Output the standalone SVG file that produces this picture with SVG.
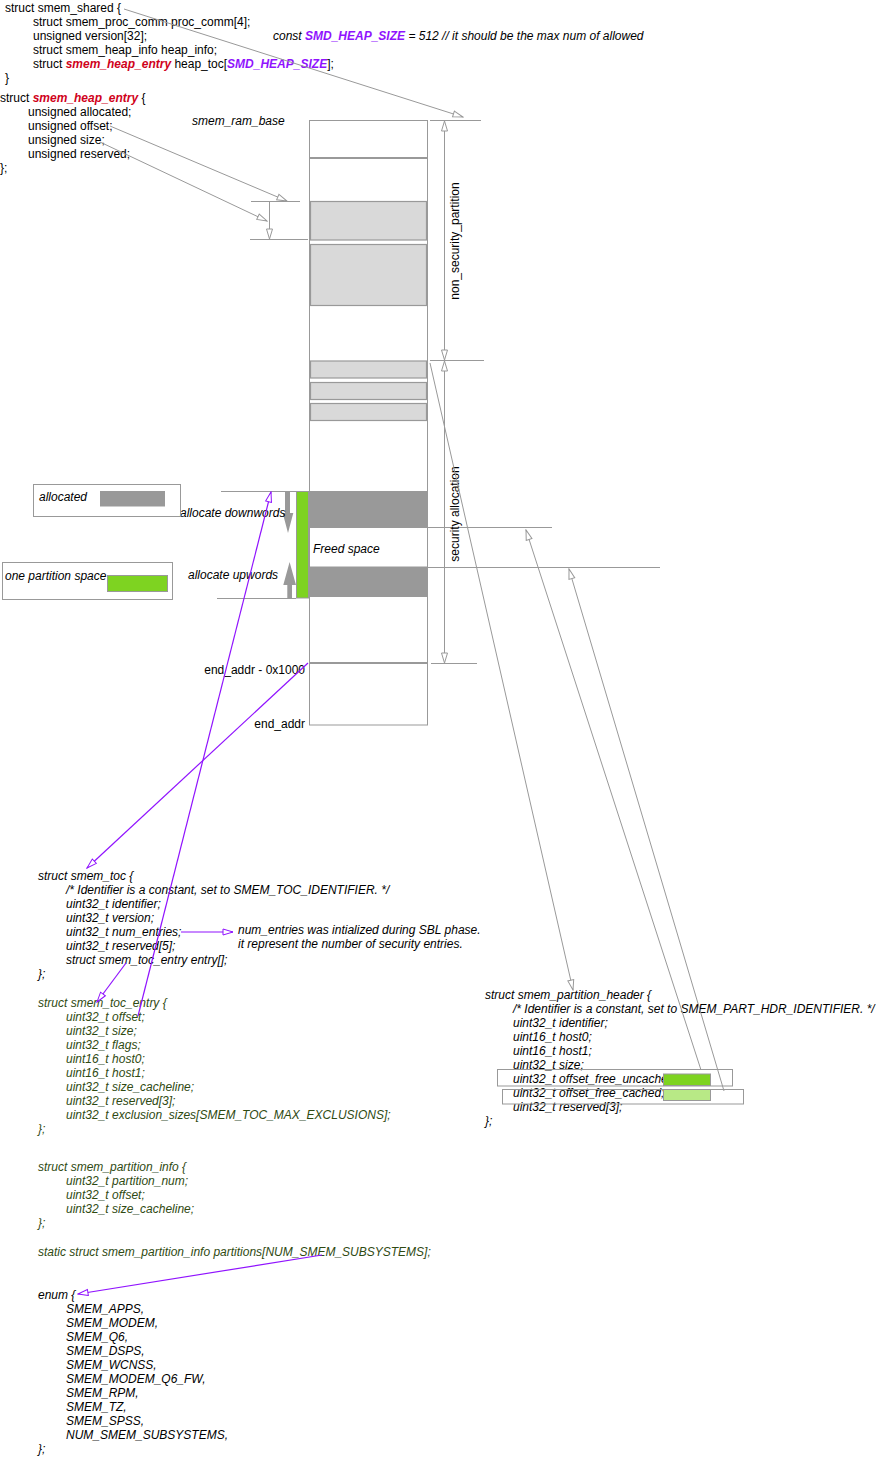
<svg xmlns="http://www.w3.org/2000/svg" width="876" height="1470" viewBox="0 0 876 1470">
<style>
text{font-family:"Liberation Sans",Arial,sans-serif;font-size:12px;fill:#000}
.i{font-style:italic}
.g{fill:#2F4A12}
.red{fill:#D0021B;font-weight:bold;font-style:italic}
.pur{fill:#9013FE;font-weight:bold;font-style:italic}
.ln{stroke:#999;stroke-width:1;fill:none}
.pl{stroke:#9013FE;stroke-width:1.2;fill:none}
.col{fill:#fff;stroke:#999;stroke-width:1}
.lg{fill:#D9D9D9;stroke:#999;stroke-width:1.2}
.dg{fill:#999;stroke:none}
</style>
<defs>
<marker id="ga" viewBox="0 0 12 8" refX="11" refY="4" markerWidth="12" markerHeight="8" markerUnits="userSpaceOnUse" orient="auto-start-reverse"><path d="M1,1 L11,4 L1,7 Z" fill="#fff" stroke="#999" stroke-width="1"/></marker>
<marker id="pa" viewBox="0 0 12 8" refX="11" refY="4" markerWidth="12" markerHeight="8" markerUnits="userSpaceOnUse" orient="auto-start-reverse"><path d="M1,1 L11,4 L1,7 Z" fill="#fff" stroke="#9013FE" stroke-width="1"/></marker>
</defs>

<g id="smem_shared">
<text x="5" y="12">struct smem_shared {</text>
<text x="33" y="26">struct smem_proc_comm proc_comm[4];</text>
<text x="33" y="40">unsigned version[32];</text>
<text x="33" y="54">struct smem_heap_info heap_info;</text>
<text x="33" y="68">struct <tspan class="red">smem_heap_entry</tspan> heap_toc[<tspan class="pur">SMD_HEAP_SIZE</tspan>];</text>
<text x="5" y="82"> }</text>
</g>

<g id="heap_size_note">
<text x="273" y="40" class="i">const <tspan class="pur">SMD_HEAP_SIZE</tspan> = 512 // it should be the max num of allowed</text>
</g>

<g id="smem_heap_entry">
<text x="0" y="102">struct <tspan class="red">smem_heap_entry</tspan> {</text>
<text x="28" y="116">unsigned allocated;</text>
<text x="28" y="130">unsigned offset;</text>
<text x="28" y="144">unsigned size;</text>
<text x="28" y="158">unsigned reserved;</text>
<text x="0" y="172">};</text>
</g>

<g id="memory">
<text x="192" y="125" class="i">smem_ram_base</text>
<rect class="col" x="309.5" y="120.5" width="118" height="37.5"/>
<rect class="col" x="309.5" y="158" width="118" height="505"/>
<rect class="col" x="309.5" y="663" width="118" height="62"/>
<line x1="309.5" y1="158" x2="427.5" y2="158" stroke="#999" stroke-width="2"/>
<line x1="309.5" y1="663" x2="427.5" y2="663" stroke="#999" stroke-width="2"/>
<rect class="lg" x="310.5" y="201.5" width="116" height="38.5"/>
<rect class="lg" x="310.5" y="244.5" width="116" height="61"/>
<rect class="lg" x="310.5" y="361" width="116" height="17"/>
<rect class="lg" x="310.5" y="382.5" width="116" height="17"/>
<rect class="lg" x="310.5" y="403.5" width="116" height="17"/>
<rect class="dg" x="309.5" y="491" width="118" height="37"/>
<rect class="dg" x="309.5" y="566.5" width="118" height="30.5"/>
<rect x="296.5" y="491.5" width="12" height="106.5" fill="#7ED321" stroke="#999" stroke-width="1"/>
<text x="313" y="553" class="i">Freed space</text>
<text x="305" y="674" text-anchor="end">end_addr - 0x1000</text>
<text x="305" y="728" text-anchor="end">end_addr</text>
</g>

<g id="alloc_arrows">
<line class="ln" x1="221" y1="491.5" x2="296" y2="491.5"/>
<line class="ln" x1="217" y1="598.5" x2="296" y2="598.5"/>
<path d="M285,491 H290 V513 H293.3 L288,533 L282.7,513 H285 Z" fill="#999"/>
<path d="M287.3,598 H292 V585 H296 L289.6,562 L283.3,585 H287.3 Z" fill="#999"/>
<text x="180" y="517" class="i">allocate downwords</text>
<text x="188" y="579" class="i">allocate upwords</text>
</g>

<g id="legend_allocated">
<rect x="33.5" y="484.5" width="147" height="32" fill="none" stroke="#999"/>
<rect x="100" y="491" width="65" height="15.5" fill="#999"/>
<text x="39" y="501" class="i">allocated</text>
</g>
<g id="legend_partition">
<rect x="2.5" y="562.5" width="170" height="37" fill="none" stroke="#999"/>
<rect x="107.5" y="575.5" width="60" height="16" fill="#7ED321" stroke="#999"/>
<text x="5" y="580" class="i">one partition space</text>
</g>

<g id="dimensions">
<line class="ln" x1="430" y1="120.5" x2="481" y2="120.5"/>
<line class="ln" x1="430" y1="360.5" x2="484" y2="360.5"/>
<line class="ln" x1="431" y1="663.5" x2="477" y2="663.5"/>
<line class="ln" x1="427" y1="527.5" x2="552" y2="527.5"/>
<line class="ln" x1="427" y1="567.5" x2="660" y2="567.5"/>
<line class="ln" x1="444.5" y1="121" x2="444.5" y2="360" marker-start="url(#ga)" marker-end="url(#ga)"/>
<line class="ln" x1="444.5" y1="361" x2="444.5" y2="663" marker-start="url(#ga)" marker-end="url(#ga)"/>
<text transform="translate(459,241) rotate(-90)" text-anchor="middle">non_security_partition</text>
<text transform="translate(459,514) rotate(-90)" text-anchor="middle">security allocation</text>
<line class="ln" x1="251" y1="201.5" x2="300" y2="201.5"/>
<line class="ln" x1="250" y1="239.5" x2="308" y2="239.5"/>
<line class="ln" x1="269.5" y1="202" x2="269.5" y2="239" marker-end="url(#ga)"/>
</g>

<g id="smem_toc">
<text class="i" x="38" y="880">struct smem_toc {</text>
<text class="i" x="66" y="894">/* Identifier is a constant, set to SMEM_TOC_IDENTIFIER. */</text>
<text class="i" x="66" y="908">uint32_t identifier;</text>
<text class="i" x="66" y="922">uint32_t version;</text>
<text class="i" x="66" y="936">uint32_t num_entries;</text>
<text class="i" x="66" y="950">uint32_t reserved[5];</text>
<text class="i" x="66" y="964">struct smem_toc_entry entry[];</text>
<text class="i" x="38" y="978">};</text>
</g>

<g id="num_entries_note">
<text class="i" x="238" y="934">num_entries was intialized during SBL phase.</text>
<text class="i" x="238" y="948">it represent the number of security entries.</text>
</g>

<g id="smem_toc_entry">
<text class="i g" x="38" y="1007">struct smem_toc_entry {</text>
<text class="i g" x="66" y="1021">uint32_t offset;</text>
<text class="i g" x="66" y="1035">uint32_t size;</text>
<text class="i g" x="66" y="1049">uint32_t flags;</text>
<text class="i g" x="66" y="1063">uint16_t host0;</text>
<text class="i g" x="66" y="1077">uint16_t host1;</text>
<text class="i g" x="66" y="1091">uint32_t size_cacheline;</text>
<text class="i g" x="66" y="1105">uint32_t reserved[3];</text>
<text class="i g" x="66" y="1119">uint32_t exclusion_sizes[SMEM_TOC_MAX_EXCLUSIONS];</text>
<text class="i g" x="38" y="1133">};</text>
</g>

<g id="smem_partition_info">
<text class="i g" x="38" y="1171">struct smem_partition_info {</text>
<text class="i g" x="66" y="1185">uint32_t partition_num;</text>
<text class="i g" x="66" y="1199">uint32_t offset;</text>
<text class="i g" x="66" y="1213">uint32_t size_cacheline;</text>
<text class="i g" x="38" y="1227">};</text>
<text class="i g" x="38" y="1256">static struct smem_partition_info partitions[NUM_SMEM_SUBSYSTEMS];</text>
</g>

<g id="enum">
<text class="i" x="38" y="1299">enum {</text>
<text class="i" x="66" y="1313">SMEM_APPS,</text>
<text class="i" x="66" y="1327">SMEM_MODEM,</text>
<text class="i" x="66" y="1341">SMEM_Q6,</text>
<text class="i" x="66" y="1355">SMEM_DSPS,</text>
<text class="i" x="66" y="1369">SMEM_WCNSS,</text>
<text class="i" x="66" y="1383">SMEM_MODEM_Q6_FW,</text>
<text class="i" x="66" y="1397">SMEM_RPM,</text>
<text class="i" x="66" y="1411">SMEM_TZ,</text>
<text class="i" x="66" y="1425">SMEM_SPSS,</text>
<text class="i" x="66" y="1439">NUM_SMEM_SUBSYSTEMS,</text>
<text class="i" x="38" y="1453">};</text>
</g>

<g id="smem_partition_header">
<text class="i" x="485" y="999">struct smem_partition_header {</text>
<text class="i" x="513" y="1013">/* Identifier is a constant, set to SMEM_PART_HDR_IDENTIFIER. */</text>
<text class="i" x="513" y="1027">uint32_t identifier;</text>
<text class="i" x="513" y="1041">uint16_t host0;</text>
<text class="i" x="513" y="1055">uint16_t host1;</text>
<text class="i" x="513" y="1069">uint32_t size;</text>
<text class="i" x="513" y="1083">uint32_t offset_free_uncached;</text>
<text class="i" x="513" y="1097">uint32_t offset_free_cached;</text>
<text class="i" x="513" y="1111">uint32_t reserved[3];</text>
<text class="i" x="485" y="1125">};</text>
<rect x="497.5" y="1069.5" width="235" height="16.5" fill="none" stroke="#999"/>
<rect x="502.5" y="1089.5" width="241" height="14.5" fill="none" stroke="#999"/>
<rect x="663.5" y="1074" width="47" height="11.5" fill="#7ED321" stroke="#999"/>
<rect x="663.5" y="1089.5" width="47" height="11" fill="#B8E986" stroke="#999"/>
</g>

<g id="connectors">
<line class="ln" x1="124" y1="9" x2="463" y2="117" marker-end="url(#ga)"/>
<line class="ln" x1="110" y1="126" x2="287" y2="201" marker-end="url(#ga)"/>
<line class="ln" x1="100" y1="142" x2="267" y2="221" marker-end="url(#ga)"/>
<line class="ln" x1="430" y1="363" x2="573" y2="990" marker-end="url(#ga)"/>
<line class="ln" x1="701" y1="1070" x2="526" y2="530" marker-end="url(#ga)"/>
<line class="ln" x1="724" y1="1091" x2="569" y2="569" marker-end="url(#ga)"/>
<line class="pl" x1="308" y1="663" x2="87" y2="868" marker-end="url(#pa)"/>
<line class="pl" x1="138" y1="1016" x2="271" y2="492" marker-end="url(#pa)"/>
<line class="pl" x1="181" y1="932" x2="233" y2="932" marker-end="url(#pa)"/>
<line class="pl" x1="126" y1="963" x2="97" y2="1002" marker-end="url(#pa)"/>
<line class="pl" x1="322" y1="1255" x2="78" y2="1294" marker-end="url(#pa)"/>
</g>
</svg>
